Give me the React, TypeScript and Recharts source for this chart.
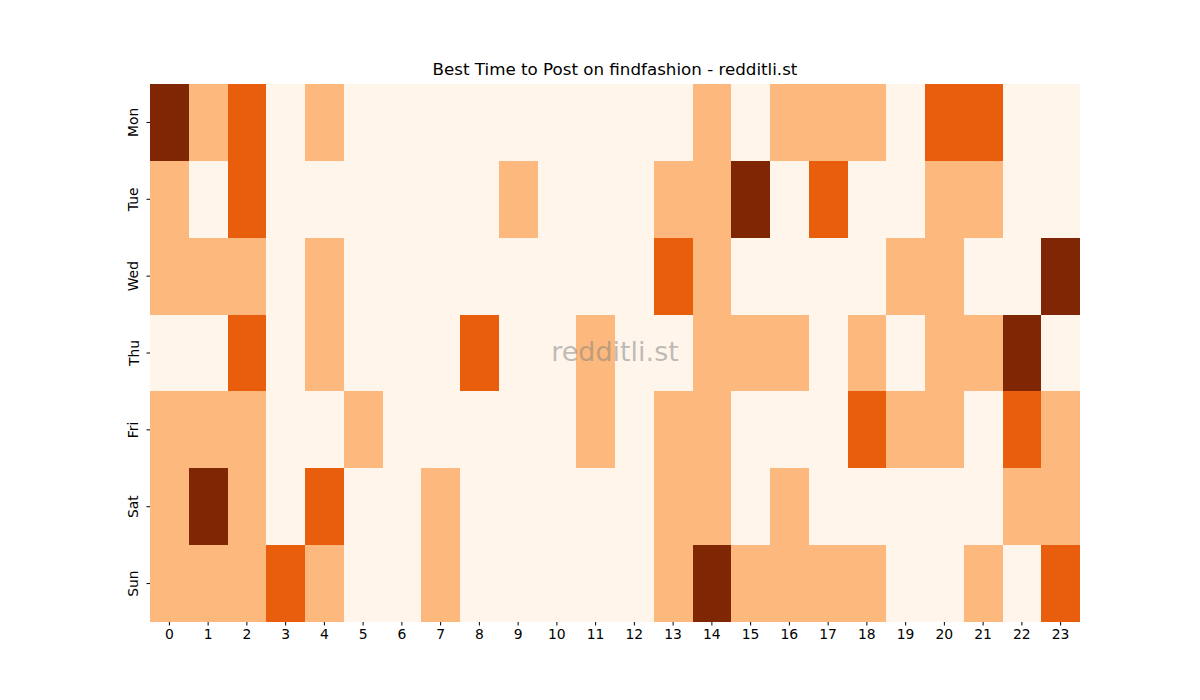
import React from "react";
import { BarChart, Bar, XAxis, YAxis, Cell } from "recharts";

// rows of the heatmap (top to bottom) and hour columns
const days = ["Mon", "Tue", "Wed", "Thu", "Fri", "Sat", "Sun"];
const hours = Array.from({ length: 24 }, (_, i) => i);

// intensity level per hour, 0..3
const mon = [3, 1, 2, 0, 1, 0, 0, 0, 0, 0, 0, 0, 0, 0, 1, 0, 1, 1, 1, 0, 2, 2, 0, 0];
const tue = [1, 0, 2, 0, 0, 0, 0, 0, 0, 1, 0, 0, 0, 1, 1, 3, 0, 2, 0, 0, 1, 1, 0, 0];
const wed = [1, 1, 1, 0, 1, 0, 0, 0, 0, 0, 0, 0, 0, 2, 1, 0, 0, 0, 0, 1, 1, 0, 0, 3];
const thu = [0, 0, 2, 0, 1, 0, 0, 0, 2, 0, 0, 1, 0, 0, 1, 1, 1, 0, 1, 0, 1, 1, 3, 0];
const fri = [1, 1, 1, 0, 0, 1, 0, 0, 0, 0, 0, 1, 0, 1, 1, 0, 0, 0, 2, 1, 1, 0, 2, 1];
const sat = [1, 3, 1, 0, 2, 0, 0, 1, 0, 0, 0, 0, 0, 1, 1, 0, 1, 0, 0, 0, 0, 0, 1, 1];
const sun = [1, 1, 1, 2, 1, 0, 0, 1, 0, 0, 0, 0, 0, 1, 3, 1, 1, 1, 1, 0, 0, 1, 0, 2];

const levels = [mon, tue, wed, thu, fri, sat, sun];

// Oranges colormap sampled at 0, 1/3, 2/3, 1
const palette = ["#fff5eb", "#fdb97d", "#e95e0d", "#7f2704"];

const FONT = "DejaVu Sans, sans-serif";

// each row: one unit of width per hour, stacked side by side
const chartData = days.map((day) => {
  const row: Record<string, string | number> = { day };
  hours.forEach((h) => {
    row[`h${h}`] = 1;
  });
  return row;
});

const hourTicks = hours.map((h) => h + 0.5);

const DayTick = (props: any) => {
  const { x, y, payload } = props;
  return (
    <text
      x={x}
      y={y}
      transform={`rotate(-90, ${x}, ${y})`}
      textAnchor="middle"
      fill="#000"
      fontSize={13.9}
      fontFamily={FONT}
    >
      {payload.value}
    </text>
  );
};

export default function App() {
  return (
    <div style={{ position: "absolute", left: 0, top: 0, width: 1200, height: 700, background: "#fff" }}>
      <div
        style={{
          position: "absolute",
          left: 415,
          width: 400,
          top: 59,
          textAlign: "center",
          fontFamily: FONT,
          fontSize: 16.7,
          lineHeight: "20px",
          color: "#000",
        }}
      >
        Best Time to Post on findfashion - redditli.st
      </div>
      <BarChart
        width={1200}
        height={700}
        data={chartData}
        layout="vertical"
        barCategoryGap={0}
        margin={{ top: 84, right: 120, bottom: 38, left: 110 }}
      >
        <XAxis
          type="number"
          domain={[0, 24]}
          ticks={hourTicks}
          tickFormatter={(v: number) => String(v - 0.5)}
          axisLine={false}
          tickLine={{ stroke: "#000", strokeWidth: 1 }}
          tickSize={3.5}
          tickMargin={4}
          height={40}
          interval={0}
          tick={{ fill: "#000", fontSize: 13.9, fontFamily: FONT }}
        />
        <YAxis
          type="category"
          dataKey="day"
          axisLine={false}
          tickLine={{ stroke: "#000", strokeWidth: 1 }}
          tickSize={3.5}
          tickMargin={8}
          width={40}
          interval={0}
          tick={<DayTick />}
        />
        {hours.map((h) => (
          <Bar key={h} dataKey={`h${h}`} stackId="grid" isAnimationActive={false}>
            {days.map((d, r) => (
              <Cell key={`${d}-${h}`} fill={palette[levels[r][h]]} shapeRendering="crispEdges" />
            ))}
          </Bar>
        ))}
      </BarChart>
      <div
        style={{
          position: "absolute",
          left: 415,
          width: 400,
          top: 335,
          textAlign: "center",
          fontFamily: FONT,
          fontSize: 27,
          lineHeight: "34px",
          color: "rgba(128,128,128,0.5)",
          pointerEvents: "none",
        }}
      >
        redditli.st
      </div>
    </div>
  );
}
